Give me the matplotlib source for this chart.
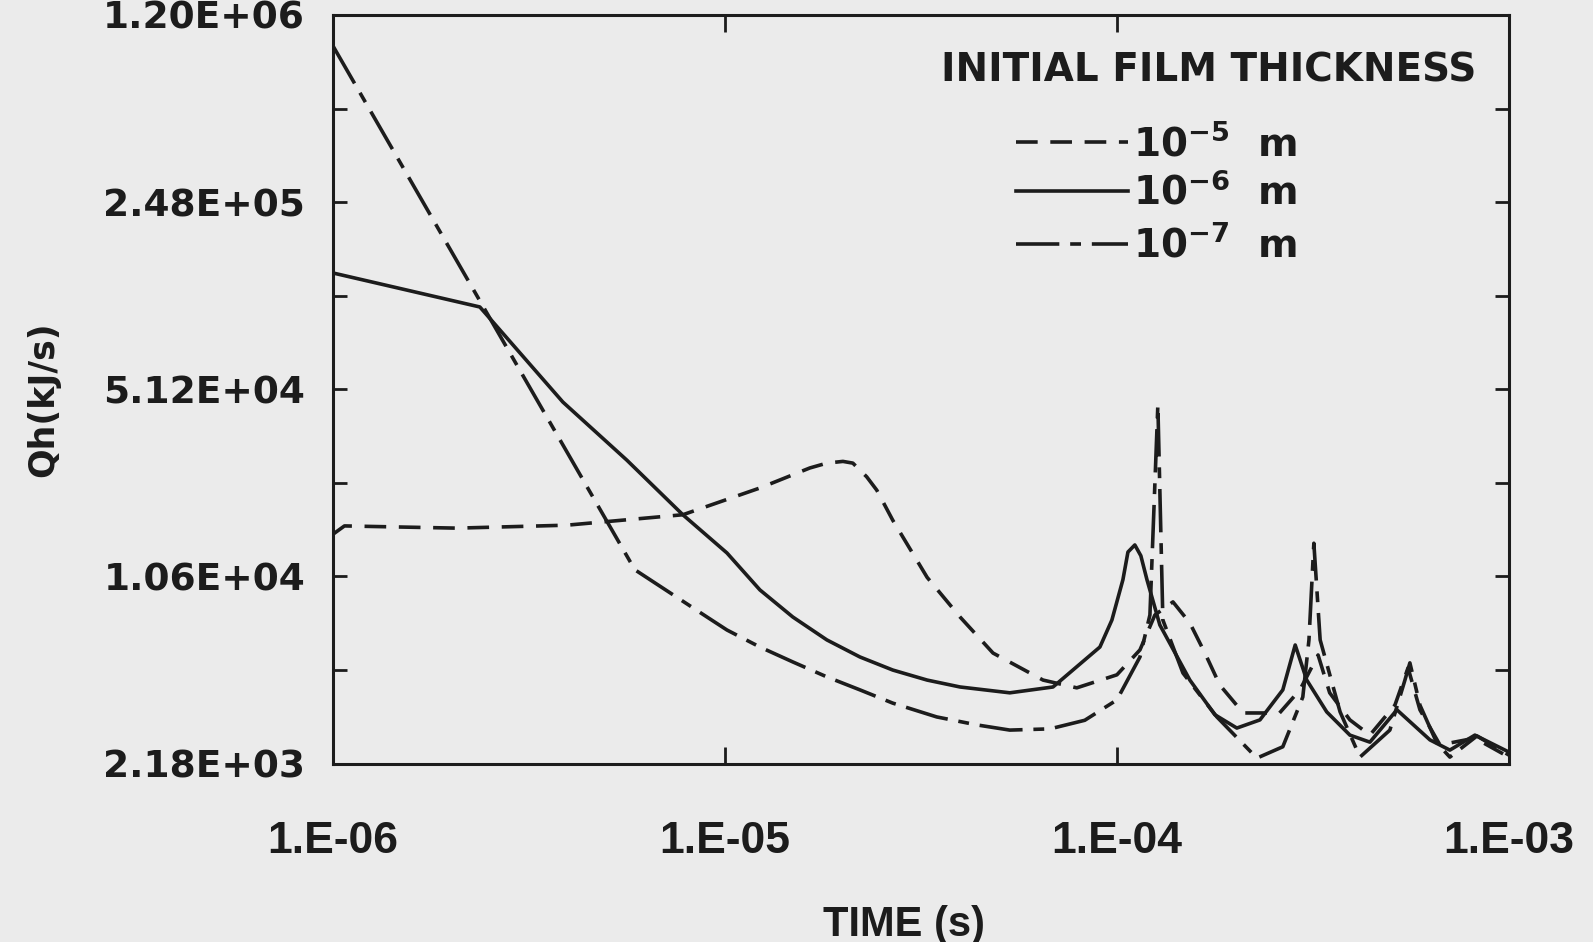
import matplotlib.pyplot as plt
from matplotlib.lines import Line2D
from matplotlib.ticker import NullFormatter
import numpy as np

plt.rcParams['font.family'] = ['DejaVu Sans']
plt.rcParams['font.weight'] = 'bold'
plt.rcParams['mathtext.fontset'] = 'dejavusans'

# initial film thickness 1e-5 m (dashed)
t5 = [1.0e-6, 1.07e-6, 2.07e-6, 3.95e-6, 7.81e-6, 1.228e-5, 1.647e-5, 1.82e-5, 2.0e-5,
      2.12e-5, 2.30e-5, 2.44e-5, 2.68e-5, 3.28e-5, 3.98e-5, 4.83e-5, 6.48e-5, 7.9e-5,
      1.0e-4, 1.145e-4, 1.25e-4, 1.39e-4, 1.535e-4, 1.677e-4, 1.83e-4, 2.10e-4, 2.60e-4,
      2.93e-4, 3.26e-4, 3.49e-4, 3.93e-4, 4.42e-4, 5.12e-4, 5.53e-4, 5.93e-4, 6.67e-4,
      8.19e-4, 1.0e-3]
q5 = [1.51e4, 1.62e4, 1.59e4, 1.63e4, 1.78e4, 2.23e4, 2.64e4, 2.75e4, 2.79e4,
      2.75e4, 2.45e4, 2.19e4, 1.70e4, 1.05e4, 7.52e3, 5.55e3, 4.42e3, 4.14e3,
      4.62e3, 5.70e3, 7.65e3, 8.54e3, 7.15e3, 5.55e3, 4.24e3, 3.35e3, 3.35e3,
      4.07e3, 5.46e3, 3.97e3, 3.16e3, 2.78e3, 3.58e3, 4.90e3, 3.44e3, 2.56e3,
      2.71e3, 2.31e3]

# 1e-6 m (solid)
t6 = [1.0e-6, 2.37e-6, 3.86e-6, 5.62e-6, 7.81e-6, 1.012e-5, 1.228e-5, 1.49e-5, 1.82e-5,
      2.21e-5, 2.68e-5, 3.28e-5, 3.98e-5, 5.33e-5, 6.87e-5, 9.05e-5, 9.71e-5, 1.036e-4,
      1.067e-4, 1.111e-4, 1.151e-4, 1.193e-4, 1.287e-4, 1.535e-4, 1.778e-4, 2.023e-4,
      2.317e-4, 2.65e-4, 2.85e-4, 3.05e-4, 3.43e-4, 3.93e-4, 4.42e-4, 5.18e-4, 6.29e-4,
      7.07e-4, 8.19e-4, 1.0e-3]
q6 = [1.365e5, 1.025e5, 4.60e4, 2.82e4, 1.78e4, 1.29e4, 9.45e3, 7.52e3, 6.20e3,
      5.37e3, 4.81e3, 4.42e3, 4.17e3, 3.97e3, 4.17e3, 5.84e3, 7.33e3, 1.03e4,
      1.30e4, 1.38e4, 1.26e4, 1.03e4, 7.03e3, 4.42e3, 3.30e3, 2.95e3,
      3.16e3, 4.07e3, 5.94e3, 4.42e3, 3.38e3, 2.78e3, 2.62e3, 3.44e3, 2.67e3,
      2.45e3, 2.78e3, 2.41e3]

# 1e-7 m (dash-dot)
t7 = [1.0e-6, 5.89e-6, 9.0e-6, 1.012e-5, 1.228e-5, 1.49e-5, 1.82e-5, 2.21e-5, 2.68e-5,
      3.47e-5, 4.39e-5, 5.33e-5, 6.75e-5, 8.28e-5, 1.0e-4, 1.145e-4, 1.214e-4, 1.272e-4,
      1.31e-4, 1.474e-4, 1.799e-4, 2.276e-4, 2.65e-4, 2.98e-4, 3.09e-4, 3.18e-4, 3.30e-4,
      3.71e-4, 4.17e-4, 4.97e-4, 5.43e-4, 5.59e-4, 5.93e-4, 6.55e-4, 7.07e-4, 8.29e-4,
      1.0e-3]
q7 = [9.25e5, 1.12e4, 7.52e3, 6.74e3, 5.84e3, 5.15e3, 4.54e3, 4.07e3, 3.64e3,
      3.24e3, 3.03e3, 2.90e3, 2.93e3, 3.15e3, 3.74e3, 5.37e3, 7.65e3, 4.49e4,
      7.33e3, 4.69e3, 3.24e3, 2.29e3, 2.52e3, 3.83e3, 6.20e3, 1.40e4, 6.20e3,
      3.38e3, 2.31e3, 2.90e3, 4.42e3, 5.11e3, 3.58e3, 2.60e3, 2.31e3, 2.76e3,
      2.35e3]

xticks = [1e-6, 1e-5, 1e-4, 1e-3]
xticklabels = ['1.E-06', '1.E-05', '1.E-04', '1.E-03']
yticks = [2.18e3, 1.06e4, 5.12e4, 2.48e5, 1.20e6]
yticklabels = ['2.18E+03', '1.06E+04', '5.12E+04', '2.48E+05', '1.20E+06']
series_labels = [r'$\mathbf{10^{-5}}$  m', r'$\mathbf{10^{-6}}$  m', r'$\mathbf{10^{-7}}$  m']

ink = '#1c1c1c'
bg = '#ebebeb'
lw = 2.6
dashed = (0, (6, 3.5))
dashdot = (0, (12, 3, 3, 3))

fig = plt.figure(figsize=(15.93, 9.42), dpi=100, facecolor=bg)
ax = fig.add_axes([0.209, 0.189, 0.7382, 0.7951], facecolor=bg)
ax.set_xscale('log')
ax.set_yscale('log')

ax.plot(t5, q5, color=ink, lw=lw, linestyle=dashed)
ax.plot(t6, q6, color=ink, lw=lw, linestyle='-')
ax.plot(t7, q7, color=ink, lw=lw, linestyle=dashdot)

ax.set_xlim(1e-6, 1e-3)
ax.set_ylim(2180, 1.2e6)

ax.set_xticks(xticks)
ax.set_xticklabels(xticklabels, fontfamily='Liberation Sans', fontsize=32)
ax.set_xticks([], minor=True)
ax.set_yticks(yticks)
ax.set_yticklabels(yticklabels, fontsize=27)
# minor ticks halfway between the labelled ones
ax.set_yticks(np.sqrt(np.array(yticks[:-1]) * np.array(yticks[1:])), minor=True)
ax.yaxis.set_minor_formatter(NullFormatter())

ax.tick_params(axis='x', which='both', direction='in', top=True, length=12, width=2,
               pad=41, colors=ink)
ax.tick_params(axis='y', which='both', direction='in', right=True, length=10, width=2,
               pad=20, colors=ink)
for s in ax.spines.values():
    s.set_linewidth(2.2)
    s.set_color(ink)

fig.text(43 / 1593, 1 - 399 / 942, 'Qh(kJ/s)', rotation=90, ha='center', va='center',
         fontsize=25, color=ink)
fig.text(904 / 1593, 1 - 925 / 942, 'TIME (s)', ha='center', va='center',
         fontfamily='Liberation Sans', fontsize=30, color=ink)

# legend drawn by hand
fig.text(1209 / 1593, 1 - 70 / 942, 'INITIAL FILM THICKNESS', ha='center', va='center',
         fontsize=28, color=ink)
styles = [dashed, '-', dashdot]
rows = [142, 191, 244]
for lab, st, r in zip(series_labels, styles, rows):
    y = 1 - r / 942
    fig.add_artist(Line2D([1016 / 1593, 1128 / 1593], [y, y], transform=fig.transFigure,
                          color=ink, lw=lw, linestyle=st))
    fig.text(1133 / 1593, y - 13 / 942, lab, ha='left', va='baseline', fontsize=28, color=ink)

fig.savefig('out.png', dpi=100, facecolor=bg)
